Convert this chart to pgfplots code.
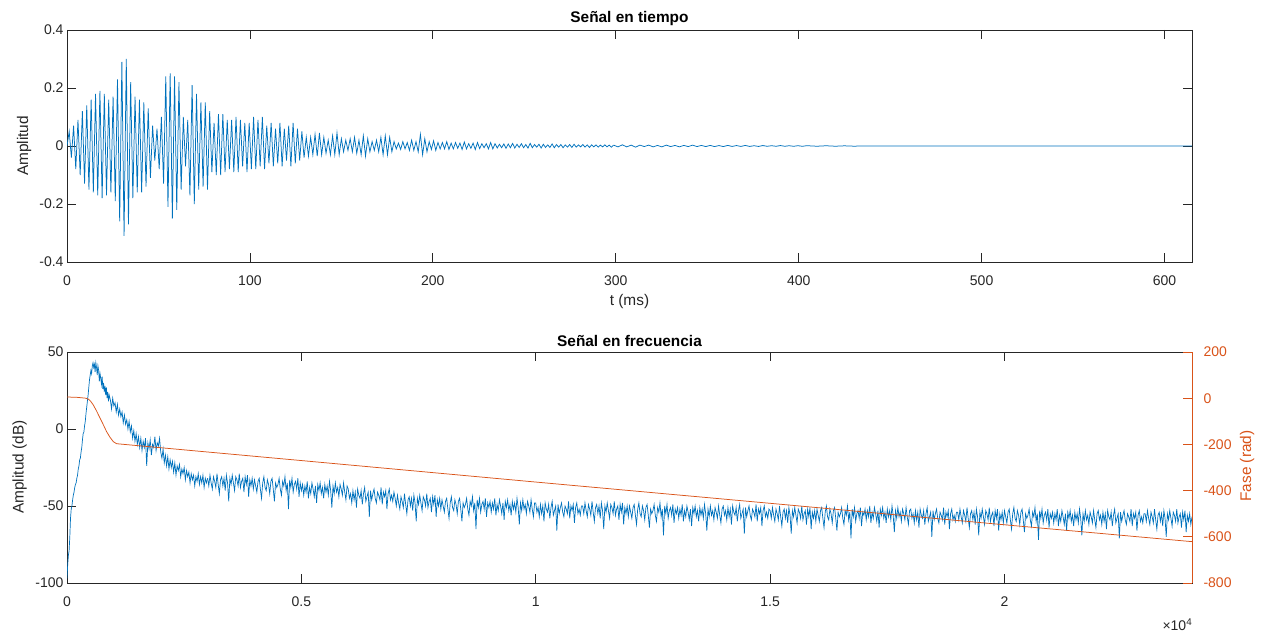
\documentclass[border=0pt]{standalone}
\usepackage{pgfplots}
\pgfplotsset{compat=1.18}
\usepackage{pgfplotstable}
\usepackage{fontspec}
\setmainfont{Liberation Sans}
\definecolor{mblue}{HTML}{0072BD}
\definecolor{morange}{HTML}{D95319}
\definecolor{maxis}{HTML}{262626}

% time signal, sample spacing 1.2 ms
\pgfplotstableread[row sep=\\]{
y\\
0.00\\ 0.05\\ -0.04\\ 0.07\\ -0.08\\ 0.09\\ -0.10\\ 0.12\\ -0.13\\ 0.14\\
-0.15\\ 0.16\\ -0.16\\ 0.18\\ -0.17\\ 0.19\\ -0.18\\ 0.18\\ -0.17\\ 0.16\\
-0.16\\ 0.17\\ -0.19\\ 0.23\\ -0.26\\ 0.29\\ -0.31\\ 0.30\\ -0.27\\ 0.22\\
-0.18\\ 0.17\\ -0.16\\ 0.16\\ -0.16\\ 0.15\\ -0.14\\ 0.13\\ -0.11\\ 0.07\\
-0.05\\ 0.06\\ -0.08\\ 0.10\\ -0.13\\ 0.24\\ -0.21\\ 0.25\\ -0.25\\ 0.24\\
-0.22\\ 0.22\\ -0.15\\ 0.10\\ -0.07\\ 0.09\\ -0.17\\ 0.21\\ -0.20\\ 0.18\\
-0.15\\ 0.15\\ -0.14\\ 0.15\\ -0.15\\ 0.12\\ -0.09\\ 0.08\\ -0.10\\ 0.11\\
-0.10\\ 0.11\\ -0.09\\ 0.09\\ -0.08\\ 0.09\\ -0.09\\ 0.10\\ -0.09\\ 0.09\\
-0.07\\ 0.08\\ -0.09\\ 0.08\\ -0.08\\ 0.10\\ -0.08\\ 0.09\\ -0.07\\ 0.10\\
-0.08\\ 0.07\\ -0.06\\ 0.08\\ -0.07\\ 0.06\\ -0.06\\ 0.08\\ -0.07\\ 0.06\\
-0.05\\ 0.07\\ -0.07\\ 0.08\\ -0.06\\ 0.06\\ -0.05\\ 0.05\\ -0.04\\ 0.03\\
-0.035\\ 0.03\\ -0.03\\ 0.04\\ -0.035\\ 0.045\\ -0.03\\ 0.03\\ -0.025\\ 0.02\\
-0.03\\ 0.035\\ -0.03\\ 0.045\\ -0.03\\ 0.025\\ -0.02\\ 0.02\\ -0.015\\ 0.025\\
-0.02\\ 0.03\\ -0.025\\ 0.02\\ -0.03\\ 0.035\\ -0.035\\ 0.025\\ -0.02\\ 0.015\\
-0.015\\ 0.02\\ -0.02\\ 0.03\\ -0.03\\ 0.035\\ -0.03\\ 0.03\\ -0.02\\ 0.015\\
-0.01\\ 0.01\\ -0.012\\ 0.015\\ -0.01\\ 0.012\\ -0.015\\ 0.02\\ -0.015\\ 0.015\\
-0.02\\ 0.04\\ -0.03\\ 0.025\\ -0.02\\ 0.015\\ -0.012\\ 0.018\\ -0.015\\ 0.012\\
-0.01\\ 0.012\\ -0.01\\ 0.015\\ -0.012\\ 0.01\\ -0.01\\ 0.012\\ -0.008\\ 0.01\\
-0.012\\ 0.014\\ -0.01\\ 0.008\\ -0.008\\ 0.01\\ -0.012\\ 0.012\\ -0.009\\ 0.008\\
-0.006\\ 0.008\\ -0.01\\ 0.012\\ -0.01\\ 0.008\\ -0.007\\ 0.006\\ -0.006\\ 0.007\\
-0.008\\ 0.007\\ -0.006\\ 0.009\\ -0.007\\ 0.006\\ -0.005\\ 0.008\\ -0.006\\ 0.005\\
-0.007\\ 0.009\\ -0.006\\ 0.005\\ -0.004\\ 0.006\\ -0.007\\ 0.006\\ -0.005\\ 0.004\\
-0.005\\ 0.007\\ -0.006\\ 0.005\\ -0.004\\ 0.005\\ -0.006\\ 0.004\\ -0.004\\ 0.005\\
-0.005\\ 0.006\\ -0.004\\ 0.004\\ -0.003\\ 0.005\\ -0.004\\ 0.004\\ -0.005\\ 0.004\\
-0.003\\ 0.004\\ -0.004\\ 0.003\\ -0.003\\ 0.004\\ -0.003\\ 0.003\\ -0.004\\ 0.003\\
}\timeA

% spectrum magnitude (dB) from 3000 Hz, spacing 25 Hz (40 values per 1000 Hz)
\pgfplotstableread[row sep=\\]{
y\\
-32\\ -37\\ -30\\ -35\\ -39\\ -31\\ -34\\ -38\\ -29\\ -36\\ -42\\ -33\\ -31\\ -37\\ -32\\ -40\\ -30\\ -35\\ -47\\ -32\\ -36\\ -30\\ -35\\ -40\\ -31\\ -33\\ -37\\ -29\\ -38\\ -34\\ -32\\ -41\\ -31\\ -36\\ -30\\ -44\\ -33\\ -37\\ -32\\ -39\\
-33\\ -37\\ -41\\ -34\\ -32\\ -39\\ -45\\ -35\\ -31\\ -38\\ -40\\ -33\\ -36\\ -42\\ -34\\ -32\\ -39\\ -47\\ -35\\ -38\\ -36\\ -32\\ -39\\ -43\\ -34\\ -37\\ -31\\ -40\\ -35\\ -52\\ -33\\ -38\\ -32\\ -41\\ -36\\ -34\\ -39\\ -32\\ -44\\ -35\\
-40\\ -36\\ -43\\ -37\\ -41\\ -34\\ -45\\ -38\\ -42\\ -35\\ -39\\ -44\\ -37\\ -48\\ -36\\ -40\\ -35\\ -42\\ -38\\ -45\\ -36\\ -41\\ -37\\ -43\\ -34\\ -40\\ -51\\ -37\\ -42\\ -35\\ -41\\ -38\\ -44\\ -36\\ -39\\ -43\\ -35\\ -41\\ -46\\ -37\\
-39\\ -45\\ -42\\ -48\\ -40\\ -46\\ -41\\ -51\\ -39\\ -43\\ -45\\ -40\\ -49\\ -42\\ -38\\ -47\\ -44\\ -41\\ -57\\ -40\\ -46\\ -42\\ -39\\ -45\\ -48\\ -41\\ -43\\ -46\\ -38\\ -49\\ -41\\ -44\\ -40\\ -52\\ -42\\ -39\\ -46\\ -43\\ -47\\ -41\\
-45\\ -50\\ -43\\ -48\\ -52\\ -44\\ -47\\ -51\\ -42\\ -49\\ -55\\ -46\\ -44\\ -50\\ -45\\ -53\\ -43\\ -48\\ -60\\ -45\\ -49\\ -43\\ -48\\ -53\\ -44\\ -46\\ -50\\ -42\\ -51\\ -47\\ -45\\ -54\\ -44\\ -49\\ -43\\ -57\\ -46\\ -50\\ -45\\ -52\\
-46\\ -50\\ -54\\ -47\\ -45\\ -52\\ -58\\ -48\\ -44\\ -51\\ -53\\ -46\\ -49\\ -55\\ -47\\ -45\\ -52\\ -60\\ -48\\ -51\\ -49\\ -45\\ -52\\ -56\\ -47\\ -50\\ -44\\ -53\\ -48\\ -65\\ -46\\ -51\\ -45\\ -54\\ -49\\ -47\\ -52\\ -45\\ -57\\ -48\\
-51\\ -47\\ -54\\ -48\\ -52\\ -45\\ -56\\ -49\\ -53\\ -46\\ -50\\ -55\\ -48\\ -59\\ -47\\ -51\\ -46\\ -53\\ -49\\ -56\\ -47\\ -52\\ -48\\ -54\\ -45\\ -51\\ -62\\ -48\\ -53\\ -46\\ -52\\ -49\\ -55\\ -47\\ -50\\ -54\\ -46\\ -52\\ -57\\ -48\\
-48\\ -54\\ -51\\ -57\\ -49\\ -55\\ -50\\ -60\\ -48\\ -52\\ -54\\ -49\\ -58\\ -51\\ -47\\ -56\\ -53\\ -50\\ -66\\ -49\\ -55\\ -51\\ -48\\ -54\\ -57\\ -50\\ -52\\ -55\\ -47\\ -58\\ -50\\ -53\\ -49\\ -61\\ -51\\ -48\\ -55\\ -52\\ -56\\ -50\\
-50\\ -55\\ -48\\ -53\\ -57\\ -49\\ -52\\ -56\\ -47\\ -54\\ -60\\ -51\\ -49\\ -55\\ -50\\ -58\\ -48\\ -53\\ -65\\ -50\\ -54\\ -48\\ -53\\ -58\\ -49\\ -51\\ -55\\ -47\\ -56\\ -52\\ -50\\ -59\\ -49\\ -54\\ -48\\ -62\\ -51\\ -55\\ -50\\ -57\\
-50\\ -54\\ -58\\ -51\\ -49\\ -56\\ -62\\ -52\\ -48\\ -55\\ -57\\ -50\\ -53\\ -59\\ -51\\ -49\\ -56\\ -64\\ -52\\ -55\\ -53\\ -49\\ -56\\ -60\\ -51\\ -54\\ -48\\ -57\\ -52\\ -69\\ -50\\ -55\\ -49\\ -58\\ -53\\ -51\\ -56\\ -49\\ -61\\ -52\\
-55\\ -51\\ -58\\ -52\\ -56\\ -49\\ -60\\ -53\\ -57\\ -50\\ -54\\ -59\\ -52\\ -63\\ -51\\ -55\\ -50\\ -57\\ -53\\ -60\\ -51\\ -56\\ -52\\ -58\\ -49\\ -55\\ -66\\ -52\\ -57\\ -50\\ -56\\ -53\\ -59\\ -51\\ -54\\ -58\\ -50\\ -56\\ -61\\ -52\\
-50\\ -56\\ -53\\ -59\\ -51\\ -57\\ -52\\ -62\\ -50\\ -54\\ -56\\ -51\\ -60\\ -53\\ -49\\ -58\\ -55\\ -52\\ -68\\ -51\\ -57\\ -53\\ -50\\ -56\\ -59\\ -52\\ -54\\ -57\\ -49\\ -60\\ -52\\ -55\\ -51\\ -63\\ -53\\ -50\\ -57\\ -54\\ -58\\ -52\\
-53\\ -58\\ -51\\ -56\\ -60\\ -52\\ -55\\ -59\\ -50\\ -57\\ -63\\ -54\\ -52\\ -58\\ -53\\ -61\\ -51\\ -56\\ -68\\ -53\\ -57\\ -51\\ -56\\ -61\\ -52\\ -54\\ -58\\ -50\\ -59\\ -55\\ -53\\ -62\\ -52\\ -57\\ -51\\ -65\\ -54\\ -58\\ -53\\ -60\\
-52\\ -56\\ -60\\ -53\\ -51\\ -58\\ -64\\ -54\\ -50\\ -57\\ -59\\ -52\\ -55\\ -61\\ -53\\ -51\\ -58\\ -66\\ -54\\ -57\\ -55\\ -51\\ -58\\ -62\\ -53\\ -56\\ -50\\ -59\\ -54\\ -71\\ -52\\ -57\\ -51\\ -60\\ -55\\ -53\\ -58\\ -51\\ -63\\ -54\\
-56\\ -52\\ -59\\ -53\\ -57\\ -50\\ -61\\ -54\\ -58\\ -51\\ -55\\ -60\\ -53\\ -64\\ -52\\ -56\\ -51\\ -58\\ -54\\ -61\\ -52\\ -57\\ -53\\ -59\\ -50\\ -56\\ -67\\ -53\\ -58\\ -51\\ -57\\ -54\\ -60\\ -52\\ -55\\ -59\\ -51\\ -57\\ -62\\ -53\\
-52\\ -58\\ -55\\ -61\\ -53\\ -59\\ -54\\ -64\\ -52\\ -56\\ -58\\ -53\\ -62\\ -55\\ -51\\ -60\\ -57\\ -54\\ -70\\ -53\\ -59\\ -55\\ -52\\ -58\\ -61\\ -54\\ -56\\ -59\\ -51\\ -62\\ -54\\ -57\\ -53\\ -65\\ -55\\ -52\\ -59\\ -56\\ -60\\ -54\\
-54\\ -59\\ -52\\ -57\\ -61\\ -53\\ -56\\ -60\\ -51\\ -58\\ -64\\ -55\\ -53\\ -59\\ -54\\ -62\\ -52\\ -57\\ -69\\ -54\\ -58\\ -52\\ -57\\ -62\\ -53\\ -55\\ -59\\ -51\\ -60\\ -56\\ -54\\ -63\\ -53\\ -58\\ -52\\ -66\\ -55\\ -59\\ -54\\ -61\\
-53\\ -57\\ -61\\ -54\\ -52\\ -59\\ -65\\ -55\\ -51\\ -58\\ -60\\ -53\\ -56\\ -62\\ -54\\ -52\\ -59\\ -67\\ -55\\ -58\\ -56\\ -52\\ -59\\ -63\\ -54\\ -57\\ -51\\ -60\\ -55\\ -72\\ -53\\ -58\\ -52\\ -61\\ -56\\ -54\\ -59\\ -52\\ -64\\ -55\\
-58\\ -54\\ -61\\ -55\\ -59\\ -52\\ -63\\ -56\\ -60\\ -53\\ -57\\ -62\\ -55\\ -66\\ -54\\ -58\\ -53\\ -60\\ -56\\ -63\\ -54\\ -59\\ -55\\ -61\\ -52\\ -58\\ -69\\ -55\\ -60\\ -53\\ -59\\ -56\\ -62\\ -54\\ -57\\ -61\\ -53\\ -59\\ -64\\ -55\\
-53\\ -59\\ -56\\ -62\\ -54\\ -60\\ -55\\ -65\\ -53\\ -57\\ -59\\ -54\\ -63\\ -56\\ -52\\ -61\\ -58\\ -55\\ -71\\ -54\\ -60\\ -56\\ -53\\ -59\\ -62\\ -55\\ -57\\ -60\\ -52\\ -63\\ -55\\ -58\\ -54\\ -66\\ -56\\ -53\\ -60\\ -57\\ -61\\ -55\\
-55\\ -60\\ -53\\ -58\\ -62\\ -54\\ -57\\ -61\\ -52\\ -59\\ -65\\ -56\\ -54\\ -60\\ -55\\ -63\\ -53\\ -58\\ -70\\ -55\\ -59\\ -53\\ -58\\ -63\\ -54\\ -56\\ -60\\ -52\\ -61\\ -57\\ -55\\ -64\\ -54\\ -59\\ -53\\ -67\\ -56\\ -60\\ -55\\ -62\\
-57\\
}\specB

\begin{document}
\begin{tikzpicture}
\useasboundingbox (0pt,0pt) rectangle (1262pt,634pt);
\pgfplotsset{
  mstyle/.style={
    scale only axis, width=1125pt,
    axis line style={maxis, line width=0.7pt},
    every tick/.style={maxis, line width=0.8pt},
    tick align=inside, major tick length=9pt,
    ticklabel style={font=\fontsize{14}{16}\selectfont, text=maxis},
    xticklabel style={yshift=-10pt},
    label style={font=\fontsize{15.4}{18}\selectfont, text=maxis},
    title style={font=\fontsize{15.4}{18}\selectfont\bfseries, text=black},
    scaled x ticks=false, scaled y ticks=false,
    clip mode=individual,
    /pgf/number format/assume math mode=true,
  }
}
% ---------------- top: time signal ----------------
\begin{axis}[mstyle, height=232pt, at={(67pt,372pt)}, anchor=south west,
  xmin=0, xmax=615, ymin=-0.4, ymax=0.4,
  xtick={0,100,200,300,400,500,600},
  xticklabels={0,100,200,300,400,500,600},
  ytick={-0.4,-0.2,0,0.2,0.4},
  yticklabels={-0.4,-0.2,0,0.2,0.4},
  xlabel={t (ms)}, ylabel={Amplitud}, title={Señal en tiempo},
  xlabel style={at={(axis description cs:0.5,-0.172)}, anchor=center},
  ylabel style={at={(axis description cs:-0.038,0.5)}, anchor=center},
  title style={at={(axis description cs:0.5,1.022)}, anchor=center},
]
\addplot[mblue, line width=0.75pt] table[x expr=\coordindex*1.2, y index=0] {\timeA};
\addplot[mblue, line width=0.75pt] coordinates {
(298.8,0.003)(301.2,-0.003)(303.6,0.004)(306,-0.003)(308.4,0.003)(310.8,-0.004)(313.2,0.003)(315.6,-0.002)(318,0.003)(320.4,-0.003)(322.8,0.002)(325.2,-0.003)(327.6,0.003)(330,-0.002)(332.4,0.002)(334.8,-0.003)(337.2,0.002)(339.6,-0.002)(342,0.003)(344.4,-0.002)(346.8,0.002)(349.2,-0.002)(351.6,0.002)(354,-0.002)(356.4,0.0015)(358.8,-0.002)(361.2,0.002)(363.6,-0.0015)(366,0.0015)(368.4,-0.0015)(370.8,0.002)(373.2,-0.0015)(375.6,0.001)(378,-0.0015)(380.4,0.0015)(382.8,-0.001)(385.2,0.001)(387.6,-0.001)(390,0.0015)(392.4,-0.001)(394.8,0.001)(397.2,-0.001)(399.6,0.001)(402,-0.001)(404.4,0.001)(410,-0.0008)(415,0.0008)(420,-0.0008)(425,0.0006)(430,-0.0006)(440,0.0004)(450,0)(615,0)};
\end{axis}
% ---------------- bottom: spectrum (left axis, full box) ----------------
\begin{axis}[mstyle, height=231pt, at={(67pt,51pt)}, anchor=south west,
  xtick pos=both, ytick pos=left,
  xmin=0, xmax=24000, ymin=-100, ymax=50,
  xtick={0,5000,10000,15000,20000},
  xticklabels={0,0.5,1,1.5,2},
  ytick={-100,-50,0,50},
  yticklabels={-100,-50,0,50},
  ylabel={Amplitud (dB)}, title={Señal en frecuencia},
  ylabel style={at={(axis description cs:-0.042,0.502)}, anchor=center},
  title style={at={(axis description cs:0.5,1.022)}, anchor=center},
]
\addplot[mblue, line width=0.7pt] coordinates {
(0,-97)(15,-88)(30,-82)(45,-79)(60,-70)(75,-58)(90,-52)(105,-50)(120,-46)(135,-43)
(150,-41)(165,-38)(180,-36)(195,-35)(210,-32)(225,-30)(240,-26)(255,-24)(270,-20)(285,-19)
(300,-15)(315,-12)(330,-7)(345,-3)(360,-2)(375,2)(390,5)(405,10)(420,14)(435,18)
(450,22)(465,27)(480,32)(495,35)(510,38)(525,36)(540,41)(555,43)(570,40)(585,42)
(600,37)(615,43)(630,40)(645,35)(660,41)(675,38)(690,31)(705,36)(720,33)(735,29)
(750,34)(765,26)(780,30)(795,24)(810,28)(825,22)(840,27)(855,20)(870,24)(885,18)
(900,22)(925,19)(950,13)(975,20)(1000,15)(1025,17)(1050,11)(1075,16)(1100,9)(1125,13)
(1150,8)(1175,11)(1200,4)(1225,9)(1250,3)(1275,6)(1300,0)(1325,5)(1350,-2)(1375,2)
(1400,-6)(1425,-1)(1450,-8)(1475,-3)(1500,-10)(1525,-5)(1550,-12)(1575,-6)(1600,-14)(1625,-8)
(1650,-12)(1675,-6)(1700,-24)(1725,-9)(1750,-13)(1775,-7)(1800,-17)(1825,-10)(1850,-12)(1875,-5)
(1900,-14)(1925,-9)(1950,-11)(1975,-6)(2000,-15)(2025,-19)(2050,-13)(2075,-22)(2100,-17)(2125,-24)
(2150,-18)(2175,-26)(2200,-20)(2225,-25)(2250,-21)(2275,-28)(2300,-22)(2325,-30)(2350,-24)(2375,-27)
(2400,-23)(2425,-31)(2450,-26)(2475,-29)(2500,-25)(2525,-33)(2550,-27)(2575,-31)(2600,-28)(2625,-35)
(2650,-29)(2675,-33)(2700,-30)(2725,-37)(2750,-31)(2775,-34)(2800,-29)(2825,-36)(2850,-31)(2875,-35)
(2900,-30)(2925,-38)(2950,-32)(2975,-35)(3000,-32)};
\addplot[mblue, line width=0.7pt] table[x expr=3000+25*\coordindex, y index=0] {\specB};
\node[font=\fontsize{14}{16}\selectfont, text=maxis] at (axis description cs:0.987,-0.182) {×10\textsuperscript{4}};
\end{axis}
% ---------------- bottom: phase (right axis) ----------------
\begin{axis}[mstyle, height=231pt, at={(67pt,51pt)}, anchor=south west,
  axis y line*=right, axis x line=none, tick align=inside,
  axis line style={morange, line width=0.8pt},
  every tick/.style={morange, line width=0.8pt},
  ticklabel style={font=\fontsize{14}{16}\selectfont, text=morange},
  yticklabel style={xshift=8pt},
  xmin=0, xmax=24000, ymin=-800, ymax=200,
  ytick={-800,-600,-400,-200,0,200},
  yticklabels={-800,-600,-400,-200,0,200},
  ylabel={Fase (rad)},
  ylabel style={at={(axis description cs:1.049,0.506)}, anchor=center, text=morange},
]
\addplot[morange, line width=0.75pt] coordinates {
(0,5)(200,4)(400,0)(455,-4)(500,-12)(560,-29)(630,-55)(702,-85)(775,-115)(845,-145)
(920,-170)(987,-188)(1058,-197)(5000,-270)(10000,-363)(15000,-455)(20000,-548)(24000,-621)};
\end{axis}
\end{tikzpicture}
\end{document}
